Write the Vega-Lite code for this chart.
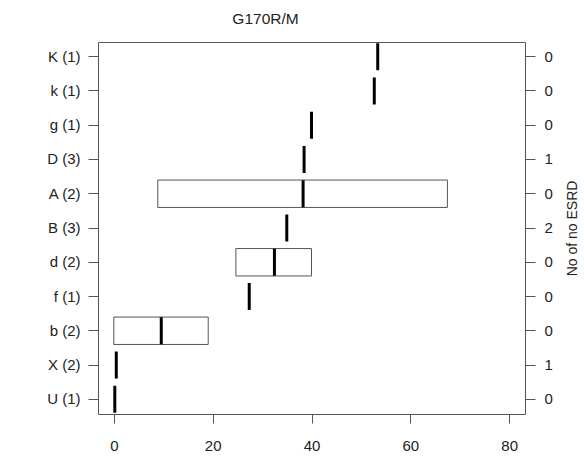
{
  "$schema": "https://vega.github.io/schema/vega-lite/v6.json",
  "autosize": "none",
  "width": 427,
  "height": 372,
  "padding": {"left": 98, "top": 42, "right": 59, "bottom": 47},
  "background": "white",
  "config": {
    "view": {"stroke": "#555", "strokeWidth": 1},
    "font": "Liberation Sans",
    "axis": {"labelFont": "Liberation Sans", "titleFont": "Liberation Sans", "labelColor": "#222", "titleColor": "#222", "tickColor": "#555", "domain": false, "grid": false}
  },
  "title": {"text": "G170R/M", "anchor": "middle", "dx": -46, "offset": 3, "baseline": "alphabetic", "fontSize": 15.5, "fontWeight": "normal", "font": "Liberation Sans", "color": "#222"},
  "data": {"values": [
    {"cat": "K (1)", "lo": 53.4, "med": 53.4, "hi": 53.4, "noesrd": 0},
    {"cat": "k (1)", "lo": 52.7, "med": 52.7, "hi": 52.7, "noesrd": 0},
    {"cat": "g (1)", "lo": 40.0, "med": 40.0, "hi": 40.0, "noesrd": 0},
    {"cat": "D (3)", "lo": 38.5, "med": 38.5, "hi": 38.5, "noesrd": 1},
    {"cat": "A (2)", "lo": 8.9, "med": 38.3, "hi": 67.5, "noesrd": 0},
    {"cat": "B (3)", "lo": 35.0, "med": 35.0, "hi": 35.0, "noesrd": 2},
    {"cat": "d (2)", "lo": 24.7, "med": 32.5, "hi": 40.0, "noesrd": 0},
    {"cat": "f (1)", "lo": 27.4, "med": 27.4, "hi": 27.4, "noesrd": 0},
    {"cat": "b (2)", "lo": 0.0, "med": 9.6, "hi": 19.1, "noesrd": 0},
    {"cat": "X (2)", "lo": 0.5, "med": 0.5, "hi": 0.5, "noesrd": 1},
    {"cat": "U (1)", "lo": 0.2, "med": 0.2, "hi": 0.2, "noesrd": 0}
  ]},
  "layer": [
    {
      "transform": [{"filter": "datum.hi > datum.lo"}],
      "mark": {"type": "rect", "fill": "white", "stroke": "#555", "strokeWidth": 1},
      "encoding": {
        "y": {"field": "cat", "type": "nominal",
          "sort": ["K (1)", "k (1)", "g (1)", "D (3)", "A (2)", "B (3)", "d (2)", "f (1)", "b (2)", "X (2)", "U (1)"],
          "scale": {"type": "band", "domain": ["K (1)", "k (1)", "g (1)", "D (3)", "A (2)", "B (3)", "d (2)", "f (1)", "b (2)", "X (2)", "U (1)"], "paddingInner": 0.2, "paddingOuter": 0.03},
          "axis": {"orient": "left", "title": null, "tickSize": 10, "labelPadding": 8, "labelFontSize": 15}},
        "x": {"field": "lo", "type": "quantitative",
          "scale": {"domain": [-3.2, 83.2], "nice": false, "zero": false},
          "axis": {"values": [0, 20, 40, 60, 80], "title": null, "tickSize": 9, "labelPadding": 15, "labelFontSize": 15}},
        "x2": {"field": "hi"}
      }
    },
    {
      "mark": {"type": "tick", "color": "black", "thickness": 3, "size": 27, "opacity": 1},
      "encoding": {
        "y": {"field": "cat", "type": "nominal",
          "sort": ["K (1)", "k (1)", "g (1)", "D (3)", "A (2)", "B (3)", "d (2)", "f (1)", "b (2)", "X (2)", "U (1)"],
          "axis": {"orient": "right", "title": "No of no ESRD", "tickSize": 10, "labelPadding": 9, "labelFontSize": 15,
            "labelExpr": "['0','0','0','1','0','2','0','0','0','1','0'][indexof(['K (1)','k (1)','g (1)','D (3)','A (2)','B (3)','d (2)','f (1)','b (2)','X (2)','U (1)'], datum.value)]",
            "titleAngle": 270, "titleX": 47, "titleY": 186, "titleAlign": "center", "titleBaseline": "middle", "titleFontSize": 14, "titleFontWeight": "normal"}},
        "x": {"field": "med", "type": "quantitative"}
      }
    }
  ],
  "resolve": {"axis": {"y": "independent"}}
}
